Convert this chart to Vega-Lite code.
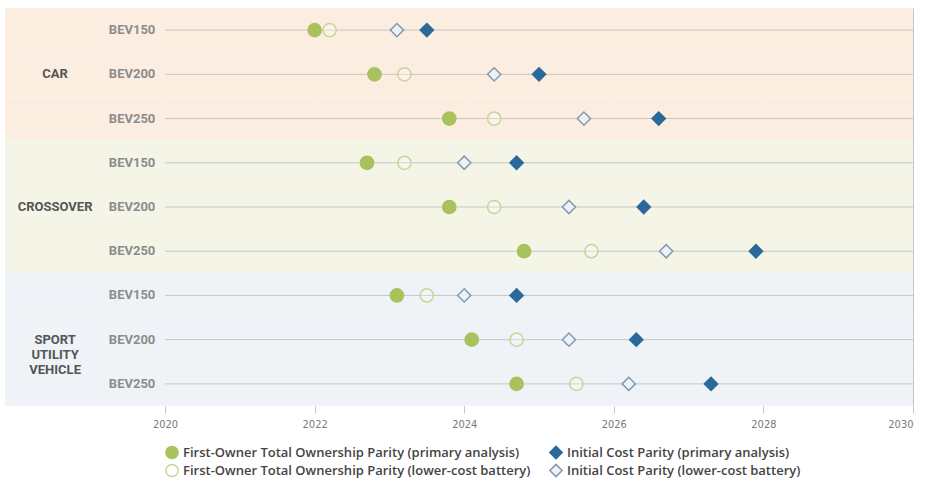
{
  "$schema": "https://vega.github.io/schema/vega-lite/v6.json",
  "width": 908,
  "height": 398,
  "autosize": {"type": "none"},
  "padding": {"left": 5, "top": 8, "right": 13, "bottom": 75},
  "background": "white",
  "config": {"view": {"stroke": null}},
  "datasets": {
    "points": [
      {"group": "CAR", "model": "BEV150", "row": "CAR BEV150", "series": "First-Owner Total Ownership Parity (primary analysis)", "year": 2022.0},
      {"group": "CAR", "model": "BEV150", "row": "CAR BEV150", "series": "First-Owner Total Ownership Parity (lower-cost battery)", "year": 2022.2},
      {"group": "CAR", "model": "BEV150", "row": "CAR BEV150", "series": "Initial Cost Parity (lower-cost battery)", "year": 2023.1},
      {"group": "CAR", "model": "BEV150", "row": "CAR BEV150", "series": "Initial Cost Parity (primary analysis)", "year": 2023.5},
      {"group": "CAR", "model": "BEV200", "row": "CAR BEV200", "series": "First-Owner Total Ownership Parity (primary analysis)", "year": 2022.8},
      {"group": "CAR", "model": "BEV200", "row": "CAR BEV200", "series": "First-Owner Total Ownership Parity (lower-cost battery)", "year": 2023.2},
      {"group": "CAR", "model": "BEV200", "row": "CAR BEV200", "series": "Initial Cost Parity (lower-cost battery)", "year": 2024.4},
      {"group": "CAR", "model": "BEV200", "row": "CAR BEV200", "series": "Initial Cost Parity (primary analysis)", "year": 2025.0},
      {"group": "CAR", "model": "BEV250", "row": "CAR BEV250", "series": "First-Owner Total Ownership Parity (primary analysis)", "year": 2023.8},
      {"group": "CAR", "model": "BEV250", "row": "CAR BEV250", "series": "First-Owner Total Ownership Parity (lower-cost battery)", "year": 2024.4},
      {"group": "CAR", "model": "BEV250", "row": "CAR BEV250", "series": "Initial Cost Parity (lower-cost battery)", "year": 2025.6},
      {"group": "CAR", "model": "BEV250", "row": "CAR BEV250", "series": "Initial Cost Parity (primary analysis)", "year": 2026.6},
      {"group": "CROSSOVER", "model": "BEV150", "row": "CROSSOVER BEV150", "series": "First-Owner Total Ownership Parity (primary analysis)", "year": 2022.7},
      {"group": "CROSSOVER", "model": "BEV150", "row": "CROSSOVER BEV150", "series": "First-Owner Total Ownership Parity (lower-cost battery)", "year": 2023.2},
      {"group": "CROSSOVER", "model": "BEV150", "row": "CROSSOVER BEV150", "series": "Initial Cost Parity (lower-cost battery)", "year": 2024.0},
      {"group": "CROSSOVER", "model": "BEV150", "row": "CROSSOVER BEV150", "series": "Initial Cost Parity (primary analysis)", "year": 2024.7},
      {"group": "CROSSOVER", "model": "BEV200", "row": "CROSSOVER BEV200", "series": "First-Owner Total Ownership Parity (primary analysis)", "year": 2023.8},
      {"group": "CROSSOVER", "model": "BEV200", "row": "CROSSOVER BEV200", "series": "First-Owner Total Ownership Parity (lower-cost battery)", "year": 2024.4},
      {"group": "CROSSOVER", "model": "BEV200", "row": "CROSSOVER BEV200", "series": "Initial Cost Parity (lower-cost battery)", "year": 2025.4},
      {"group": "CROSSOVER", "model": "BEV200", "row": "CROSSOVER BEV200", "series": "Initial Cost Parity (primary analysis)", "year": 2026.4},
      {"group": "CROSSOVER", "model": "BEV250", "row": "CROSSOVER BEV250", "series": "First-Owner Total Ownership Parity (primary analysis)", "year": 2024.8},
      {"group": "CROSSOVER", "model": "BEV250", "row": "CROSSOVER BEV250", "series": "First-Owner Total Ownership Parity (lower-cost battery)", "year": 2025.7},
      {"group": "CROSSOVER", "model": "BEV250", "row": "CROSSOVER BEV250", "series": "Initial Cost Parity (lower-cost battery)", "year": 2026.7},
      {"group": "CROSSOVER", "model": "BEV250", "row": "CROSSOVER BEV250", "series": "Initial Cost Parity (primary analysis)", "year": 2027.9},
      {"group": "SUV", "model": "BEV150", "row": "SUV BEV150", "series": "First-Owner Total Ownership Parity (primary analysis)", "year": 2023.1},
      {"group": "SUV", "model": "BEV150", "row": "SUV BEV150", "series": "First-Owner Total Ownership Parity (lower-cost battery)", "year": 2023.5},
      {"group": "SUV", "model": "BEV150", "row": "SUV BEV150", "series": "Initial Cost Parity (lower-cost battery)", "year": 2024.0},
      {"group": "SUV", "model": "BEV150", "row": "SUV BEV150", "series": "Initial Cost Parity (primary analysis)", "year": 2024.7},
      {"group": "SUV", "model": "BEV200", "row": "SUV BEV200", "series": "First-Owner Total Ownership Parity (primary analysis)", "year": 2024.1},
      {"group": "SUV", "model": "BEV200", "row": "SUV BEV200", "series": "First-Owner Total Ownership Parity (lower-cost battery)", "year": 2024.7},
      {"group": "SUV", "model": "BEV200", "row": "SUV BEV200", "series": "Initial Cost Parity (lower-cost battery)", "year": 2025.4},
      {"group": "SUV", "model": "BEV200", "row": "SUV BEV200", "series": "Initial Cost Parity (primary analysis)", "year": 2026.3},
      {"group": "SUV", "model": "BEV250", "row": "SUV BEV250", "series": "First-Owner Total Ownership Parity (primary analysis)", "year": 2024.7},
      {"group": "SUV", "model": "BEV250", "row": "SUV BEV250", "series": "First-Owner Total Ownership Parity (lower-cost battery)", "year": 2025.5},
      {"group": "SUV", "model": "BEV250", "row": "SUV BEV250", "series": "Initial Cost Parity (lower-cost battery)", "year": 2026.2},
      {"group": "SUV", "model": "BEV250", "row": "SUV BEV250", "series": "Initial Cost Parity (primary analysis)", "year": 2027.3}
    ],
    "groups": [
      {"group": "CAR", "row": "CAR BEV200", "label": ["CAR"]},
      {"group": "CROSSOVER", "row": "CROSSOVER BEV200", "label": ["CROSSOVER"]},
      {"group": "SUV", "row": "SUV BEV200", "label": ["SPORT", "UTILITY", "VEHICLE"]}
    ]
  },
  "encoding": {
    "y": {
      "field": "row",
      "type": "nominal",
      "sort": ["CAR BEV150", "CAR BEV200", "CAR BEV250", "CROSSOVER BEV150", "CROSSOVER BEV200", "CROSSOVER BEV250", "SUV BEV150", "SUV BEV200", "SUV BEV250"],
      "scale": {"paddingInner": 0, "paddingOuter": 0},
      "axis": null
    }
  },
  "layer": [
    {
      "data": {"name": "points"},
      "transform": [{"filter": "datum.series === 'First-Owner Total Ownership Parity (primary analysis)'"}],
      "mark": {"type": "rect"},
      "encoding": {
        "x": {"datum": 2017.86, "type": "quantitative", "scale": {"domain": [2017.86, 2030], "nice": false, "zero": false},
          "axis": {"values": [2020, 2022, 2024, 2026, 2028, 2030], "format": "d", "title": null, "grid": true, "gridColor": "#c6c6c6", "gridWidth": 1, "domain": false, "ticks": true, "tickColor": "#c6c6c6", "tickSize": 7, "labelPadding": 5, "labelFont": "Liberation Sans Narrow, DejaVu Sans Condensed, sans-serif", "labelFontSize": 11, "labelColor": "#7a7a7a"}},
        "x2": {"datum": 2030},
        "color": {"field": "group", "type": "nominal", "scale": {"domain": ["CAR", "CROSSOVER", "SUV"], "range": ["#fbeee0", "#f4f5e7", "#eff3f7"]}, "legend": null}
      }
    },
    {
      "data": {"name": "points"},
      "transform": [{"filter": "datum.series === 'First-Owner Total Ownership Parity (primary analysis)'"}],
      "mark": {"type": "rule", "color": "#c6c6c6", "strokeWidth": 1},
      "encoding": {
        "x": {"datum": 2020, "type": "quantitative"},
        "x2": {"datum": 2030},
        "y": {"field": "row", "type": "nominal", "bandPosition": 0.5, "sort": ["CAR BEV150", "CAR BEV200", "CAR BEV250", "CROSSOVER BEV150", "CROSSOVER BEV200", "CROSSOVER BEV250", "SUV BEV150", "SUV BEV200", "SUV BEV250"]}
      }
    },
    {
      "data": {"name": "points"},
      "transform": [{"filter": "datum.series === 'First-Owner Total Ownership Parity (primary analysis)'"}],
      "mark": {"type": "text", "align": "right", "baseline": "middle", "font": "Roboto", "fontWeight": "bold", "fontSize": 13, "color": "#8c8c8c"},
      "encoding": {
        "x": {"datum": 2019.87, "type": "quantitative"},
        "text": {"field": "model"}
      }
    },
    {
      "data": {"name": "groups"},
      "mark": {"type": "text", "align": "center", "baseline": "middle", "font": "Roboto", "fontWeight": "bold", "fontSize": 13, "color": "#555555", "lineHeight": 15},
      "encoding": {
        "x": {"datum": 2018.53, "type": "quantitative"},
        "text": {"field": "label"}
      }
    },
    {
      "data": {"name": "points"},
      "mark": {"type": "point", "size": 175, "strokeWidth": 1.5, "opacity": 1},
      "encoding": {
        "x": {"field": "year", "type": "quantitative"},
        "shape": {"field": "series", "type": "nominal",
          "scale": {"domain": ["First-Owner Total Ownership Parity (primary analysis)", "Initial Cost Parity (primary analysis)", "First-Owner Total Ownership Parity (lower-cost battery)", "Initial Cost Parity (lower-cost battery)"], "range": ["circle", "diamond", "circle", "diamond"]},
          "legend": {"orient": "none", "legendX": 160, "legendY": 437, "columns": 2, "direction": "horizontal", "title": null, "labelLimit": 420, "labelFont": "Open Sans", "labelFontSize": 13, "labelFontWeight": 600, "labelColor": "#444444", "symbolSize": 150, "symbolStrokeWidth": 1.5, "columnPadding": 18, "rowPadding": 3, "clipHeight": 15, "symbolOffset": 0}},
        "fill": {"field": "series", "type": "nominal",
          "scale": {"domain": ["First-Owner Total Ownership Parity (primary analysis)", "Initial Cost Parity (primary analysis)", "First-Owner Total Ownership Parity (lower-cost battery)", "Initial Cost Parity (lower-cost battery)"], "range": ["#a9c25d", "#2a6a9b", "rgba(255,255,255,0.25)", "rgba(235,242,248,0.9)"]},
          "legend": {"orient": "none", "legendX": 160, "legendY": 437, "columns": 2, "direction": "horizontal", "title": null, "labelLimit": 420, "labelFont": "Open Sans", "labelFontSize": 13, "labelFontWeight": 600, "labelColor": "#444444", "symbolSize": 150, "symbolStrokeWidth": 1.5, "columnPadding": 18, "rowPadding": 3, "clipHeight": 15, "symbolOffset": 0}},
        "stroke": {"field": "series", "type": "nominal",
          "scale": {"domain": ["First-Owner Total Ownership Parity (primary analysis)", "Initial Cost Parity (primary analysis)", "First-Owner Total Ownership Parity (lower-cost battery)", "Initial Cost Parity (lower-cost battery)"], "range": ["#a9c25d", "#2a6a9b", "#cbd497", "#8499ae"]},
          "legend": {"orient": "none", "legendX": 160, "legendY": 437, "columns": 2, "direction": "horizontal", "title": null, "labelLimit": 420, "labelFont": "Open Sans", "labelFontSize": 13, "labelFontWeight": 600, "labelColor": "#444444", "symbolSize": 150, "symbolStrokeWidth": 1.5, "columnPadding": 18, "rowPadding": 3, "clipHeight": 15, "symbolOffset": 0}}
      }
    }
  ]
}
